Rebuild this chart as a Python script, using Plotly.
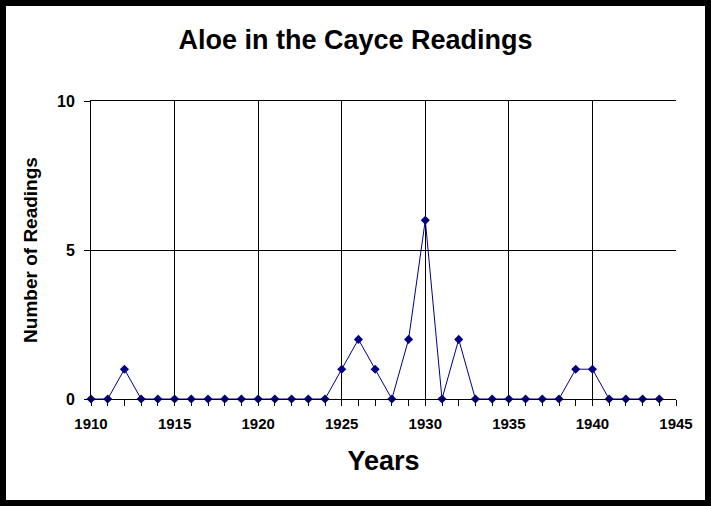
import plotly.graph_objects as go

years = list(range(1910, 1945))
readings = [0, 0, 1, 0, 0, 0, 0, 0, 0, 0,
            0, 0, 0, 0, 0, 1, 2, 1, 0, 2,
            6, 0, 2, 0, 0, 0, 0, 0, 0, 1,
            1, 0, 0, 0, 0]
x_ticks = [1910, 1915, 1920, 1925, 1930, 1935, 1940, 1945]
y_ticks = [0, 5, 10]

FONT = "Liberation Sans"

fig = go.Figure()
fig.add_trace(go.Scatter(
    x=years, y=readings, mode="lines+markers",
    line=dict(color="#000080", width=1),
    marker=dict(symbol="diamond", size=7, color="#000080"),
    cliponaxis=False, showlegend=False,
))

fig.update_layout(
    width=711, height=506,
    margin=dict(l=91, r=35, t=101, b=107, autoexpand=False),
    paper_bgcolor="white", plot_bgcolor="white",
    title=dict(text="<b>Aloe in the Cayce Readings</b>", x=0.5, xanchor="center",
               y=1 - 40 / 506, yanchor="middle",
               font=dict(family=FONT, size=27, color="black")),
    font=dict(family=FONT, color="black"),
    xaxis=dict(
        range=[1910, 1945], tickmode="array", tickvals=x_ticks,
        ticktext=[f"<b>{t}</b>" for t in x_ticks],
        ticks="outside", ticklen=6, tickcolor="black", tickwidth=1,
        showline=True, linecolor="black", linewidth=1, mirror=True,
        showgrid=True, gridcolor="black", gridwidth=1, zeroline=False,
        minor=dict(dtick=1, tick0=1910, ticks="outside", ticklen=6,
                   tickcolor="black", showgrid=False),
        tickfont=dict(family=FONT, size=15, color="black"),
        ticklabelstandoff=5,
        automargin=False,
        title=dict(text="<b>Years</b>", font=dict(family=FONT, size=27, color="black"),
                   standoff=20),
    ),
    yaxis=dict(
        range=[0, 10], tickmode="array", tickvals=y_ticks,
        ticktext=[f"<b>{t}</b>" for t in y_ticks],
        ticks="outside", ticklen=6, tickcolor="black", tickwidth=1,
        showline=True, linecolor="black", linewidth=1, mirror=False,
        showgrid=True, gridcolor="black", gridwidth=1, zeroline=False,
        tickfont=dict(family=FONT, size=16, color="black"),
        ticklabelstandoff=6,
        automargin=False,
        title=dict(text="<b>Number of Readings</b>",
                   font=dict(family=FONT, size=19, color="black"), standoff=14),
    ),
    shapes=[dict(type="rect", xref="paper", yref="paper",
                 x0=(3 - 91) / 585, x1=(708 - 91) / 585,
                 y0=(399 - 503) / 298, y1=(399 - 3) / 298,
                 line=dict(color="black", width=6), fillcolor="rgba(0,0,0,0)",
                 layer="above")],
)

fig.write_html("out.html", config={"displayModeBar": False},
               post_script="document.body.style.margin='0';document.body.style.overflow='hidden';")
